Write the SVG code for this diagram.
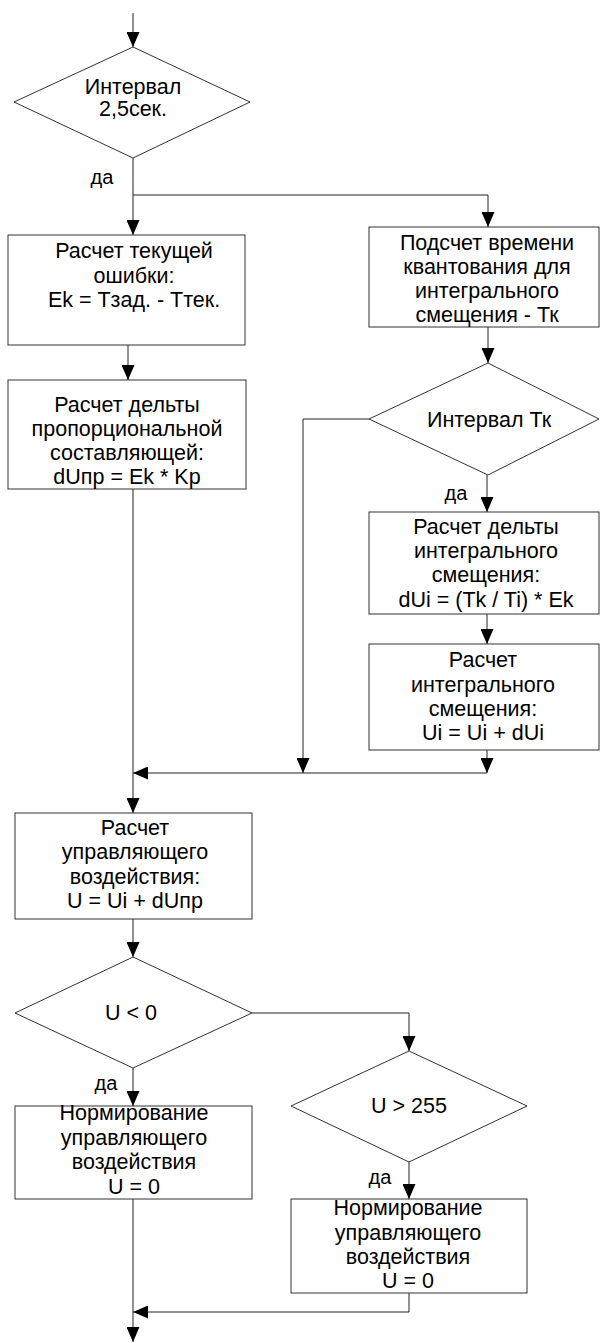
<svg xmlns="http://www.w3.org/2000/svg" width="600" height="1343" viewBox="0 0 600 1343">
<defs>
<marker id="ah" markerUnits="userSpaceOnUse" markerWidth="16" markerHeight="13" refX="15" refY="6.5" orient="auto">
<path d="M0,0 L15,6.5 L0,13 z" fill="#000"/>
</marker>
<style>
.n{fill:#fff;stroke:#333;stroke-width:1}
.t{font-family:"Liberation Sans",Arial,sans-serif;font-size:21.5px;fill:#000;text-anchor:middle}
.l{font-family:"Liberation Sans",Arial,sans-serif;font-size:20px;fill:#000;text-anchor:middle}
.c{fill:none;stroke:#222;stroke-width:1}
.a{marker-end:url(#ah)}
</style>
</defs>
<rect width="600" height="1343" fill="#fff"/>
<g id="connectors">
<path class="c a" d="M133,13 V47"/>
<path class="c a" d="M133,158 V235"/>
<path class="c a" d="M133,195 H488 V227"/>
<path class="c a" d="M128,345 V380"/>
<path class="c a" d="M488,327 V363"/>
<path class="c a" d="M369,419 H303 V773"/>
<path class="c a" d="M487,475 V512"/>
<path class="c a" d="M487,614 V644"/>
<path class="c a" d="M487,750 V773"/>
<path class="c a" d="M487,773 H133"/>
<path class="c a" d="M133,489 V813"/>
<path class="c a" d="M133,919 V957"/>
<path class="c a" d="M133,1068 V1106"/>
<path class="c a" d="M252,1013 H409 V1051"/>
<path class="c a" d="M409,1162 V1199"/>
<path class="c a" d="M409,1293 V1312 H133"/>
<path class="c a" d="M133,1199 V1342"/>
<text class="l" x="102" y="184">да</text>
<text class="l" x="456" y="500">да</text>
<text class="l" x="106" y="1090">да</text>
<text class="l" x="380" y="1184">да</text>
</g>
<g id="d1">
<polygon class="n" points="133,47 250,102 133,158 14,102"/>
<text class="t" x="133" y="94">Интервал</text>
<text class="t" x="133" y="116">2,5сек.</text>
</g>
<g id="b1">
<rect class="n" x="8" y="235" width="237" height="110"/>
<text class="t" x="134" y="258">Расчет текущей</text>
<text class="t" x="134" y="283">ошибки:</text>
<text class="t" x="134" y="307">Ek = Тзад. - Ттек.</text>
</g>
<g id="b2">
<rect class="n" x="8" y="380" width="238" height="109"/>
<text class="t" x="127" y="412">Расчет дельты</text>
<text class="t" x="127" y="436">пропорциональной</text>
<text class="t" x="127" y="460">составляющей:</text>
<text class="t" x="127" y="484">dUпр = Ek * Kp</text>
</g>
<g id="b3">
<rect class="n" x="369" y="227" width="230" height="100"/>
<text class="t" x="487" y="250">Подсчет времени</text>
<text class="t" x="487" y="274">квантования для</text>
<text class="t" x="487" y="298">интегрального</text>
<text class="t" x="487" y="322">смещения - Тк</text>
</g>
<g id="d2">
<polygon class="n" points="488,363 599,419 488,475 369,419"/>
<text class="t" x="489" y="427">Интервал Тк</text>
</g>
<g id="b4">
<rect class="n" x="369" y="512" width="230" height="102"/>
<text class="t" x="486" y="534">Расчет дельты</text>
<text class="t" x="486" y="558">интегрального</text>
<text class="t" x="486" y="582">смещения:</text>
<text class="t" x="486" y="607">dUi = (Tk / Ti) * Ek</text>
</g>
<g id="b5">
<rect class="n" x="369" y="644" width="230" height="106"/>
<text class="t" x="483" y="667">Расчет</text>
<text class="t" x="483" y="692">интегрального</text>
<text class="t" x="483" y="716">смещения:</text>
<text class="t" x="483" y="740">Ui = Ui + dUi</text>
</g>
<g id="b6">
<rect class="n" x="15" y="813" width="237" height="106"/>
<text class="t" x="135" y="835">Расчет</text>
<text class="t" x="135" y="859">управляющего</text>
<text class="t" x="135" y="884">воздействия:</text>
<text class="t" x="135" y="908">U = Ui + dUпр</text>
</g>
<g id="d3">
<polygon class="n" points="133,957 252,1013 133,1068 15,1013"/>
<text class="t" x="131" y="1020">U &lt; 0</text>
</g>
<g id="b7">
<rect class="n" x="15" y="1106" width="237" height="93"/>
<text class="t" x="134" y="1120">Нормирование</text>
<text class="t" x="134" y="1145">управляющего</text>
<text class="t" x="134" y="1169">воздействия</text>
<text class="t" x="134" y="1194">U = 0</text>
</g>
<g id="d4">
<polygon class="n" points="409,1051 527,1106 409,1162 291,1106"/>
<text class="t" x="409" y="1113">U &gt; 255</text>
</g>
<g id="b8">
<rect class="n" x="291" y="1199" width="236" height="94"/>
<text class="t" x="408" y="1215">Нормирование</text>
<text class="t" x="408" y="1240">управляющего</text>
<text class="t" x="408" y="1264">воздействия</text>
<text class="t" x="408" y="1288">U = 0</text>
</g>
</svg>
